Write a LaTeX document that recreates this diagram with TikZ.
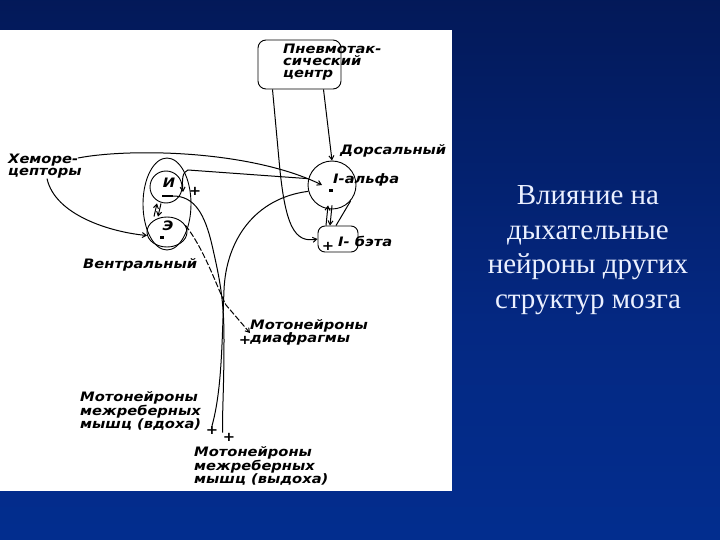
\documentclass[tikz,border=0pt]{standalone}
\usepackage{fontspec}
\newfontfamily\labfont[FakeStretch=1.13]{DejaVu Sans}
\newfontfamily\ttlfont{Liberation Serif}
\usetikzlibrary{arrows.meta,calc,shapes.geometric}
\definecolor{bgbot}{RGB}{0,52,158}
\definecolor{bgmid}{RGB}{4,40,130}
\definecolor{bgup}{RGB}{2,20,75}
\definecolor{bgtop}{RGB}{3,9,26}
\definecolor{ttlcol}{RGB}{235,240,255}
\pgfdeclareverticalshading{slidebg}{100bp}{color(0bp)=(bgbot); color(45bp)=(bgmid); color(85bp)=(bgup); color(100bp)=(bgtop)}
\begin{document}
\begin{tikzpicture}[x=1pt,y=-1pt,
  wire/.style={line width=1pt,black},
  arr/.style={wire,-{Straight Barb[length=4pt,width=5pt]}},
  lbl/.style={inner sep=0pt,font=\labfont\bfseries\itshape\fontsize{13}{12}\selectfont,align=left,text=black},
  sgn/.style={inner sep=0pt,font=\labfont\bfseries\fontsize{13}{13}\selectfont},
  ring/.style={draw,line width=0.9pt,inner sep=0pt},
  ttl/.style={font=\ttlfont\fontsize{29}{34.5}\selectfont,text=ttlcol,align=center}]
\useasboundingbox (0,0) rectangle (720,540);
\shade[shading=slidebg] (0,0) rectangle (720,540);
\fill[white] (0,30) rectangle (452,491);
% title
\node[ttl] (title) at (588,250) {Влияние на\\дыхательные\\нейроны других\\структур мозга};
% structures
\node[ring,rounded corners=8pt,minimum width=83pt,minimum height=49pt] (pn) at (299.5,64.5) {};
\node[ring,circle,minimum size=48pt] (ia) at (332,185) {};
\node[ring,rounded corners=7pt,minimum width=40pt,minimum height=26pt] (ib) at (338,239) {};
\node[ring,ellipse,minimum width=48pt,minimum height=92pt] (vent) at (167,204) {};
\node[ring,circle,minimum size=32pt] (insp) at (166,187) {};
\node[ring,ellipse,minimum width=40pt,minimum height=30pt] (exp) at (167,232) {};
% labels
\node[lbl,anchor=north west] (pnt) at (283,44) {Пневмотак-\\сический\\центр};
\node[lbl,anchor=west] (dors) at (340,151) {Дорсальный};
\node[lbl,anchor=west] (iat) at (333,180) {I-альфа};
\node[lbl,anchor=west] (ibt) at (338,241) {I- бэта};
\node[lbl,anchor=north west] (chem) at (8,154) {Хеморе-\\цепторы};
\node[lbl,anchor=west] (vt) at (83,265) {Вентральный};
\node[lbl] (it) at (169,183) {И};
\node[lbl] (et) at (168,226) {Э};
\node[lbl,anchor=north west] (md) at (250,319) {Мотонейроны\\диафрагмы};
\node[lbl,anchor=north west] (mi) at (80,391) {Мотонейроны\\межреберных\\мышц (вдоха)};
\node[lbl,anchor=north west] (me) at (194,446) {Мотонейроны\\межреберных\\мышц (выдоха)};
% signs
\node[sgn] (s1) at (195,191) {+};
\node[sgn] (s2) at (328,246) {+};
\node[sgn] (s3) at (245,340) {+};
\node[sgn] (s4) at (212,430) {+};
\node[sgn] (s5) at (229,437) {+};
\fill (162,195) rectangle (173,197);
\fill (160,236) rectangle (164,239);
\fill (329,189) rectangle (333,192);
% connectors
\draw[arr] ($(pn.south)+(-27,0)$) -- (279,160) .. controls (285,228) and (295,243) .. (ib.west);
\draw[arr] ($(pn.south)+(24,0)$) -- (ia.north);
\draw[arr] ($(chem.north west)+(70,4)$) .. controls (130,148) and (250,150) .. ($(ia.center)+(-10,0)$);
\draw[arr] ($(chem.south west)+(39,0)$) .. controls (55,215) and (110,232) .. (exp.190);
\draw[arr] (ia.165) -- (188,170) .. controls (182,172) and (182,180) .. (183,192);
\draw[wire] (173,196) .. controls (195,196) and (205,215) .. (212,245) .. controls (220,280) and (224,300) .. (224,340) .. controls (224,390) and (222,415) .. (s5.north west);
\draw[wire] (ia.195) .. controls (255,198) and (226,240) .. (224,290) .. controls (222,340) and (222,390) .. (s4.north);
\draw[arr,dashed,dash pattern=on 6pt off 2pt] (exp.20) .. controls (205,250) and (218,290) .. (226,305) -- (md.west |- 0,333);
\draw[arr] ($(insp.south)+(-5,0)$) -- ($(exp.north)+(-9,0)$);
\draw[arr] ($(exp.north)+(-13,0)$) -- ($(insp.south)+(-9,0)$);
\draw[arr] ($(ib.north)+(-12,0)$) -- ($(ia.south)+(-4,-4)$);
\draw[arr] ($(ia.south)+(0,-4)$) -- ($(ib.north)+(-8,0)$);
\draw[wire] (ia.-40) -- ($(ib.north)+(-2,0)$);
\end{tikzpicture}
\end{document}
